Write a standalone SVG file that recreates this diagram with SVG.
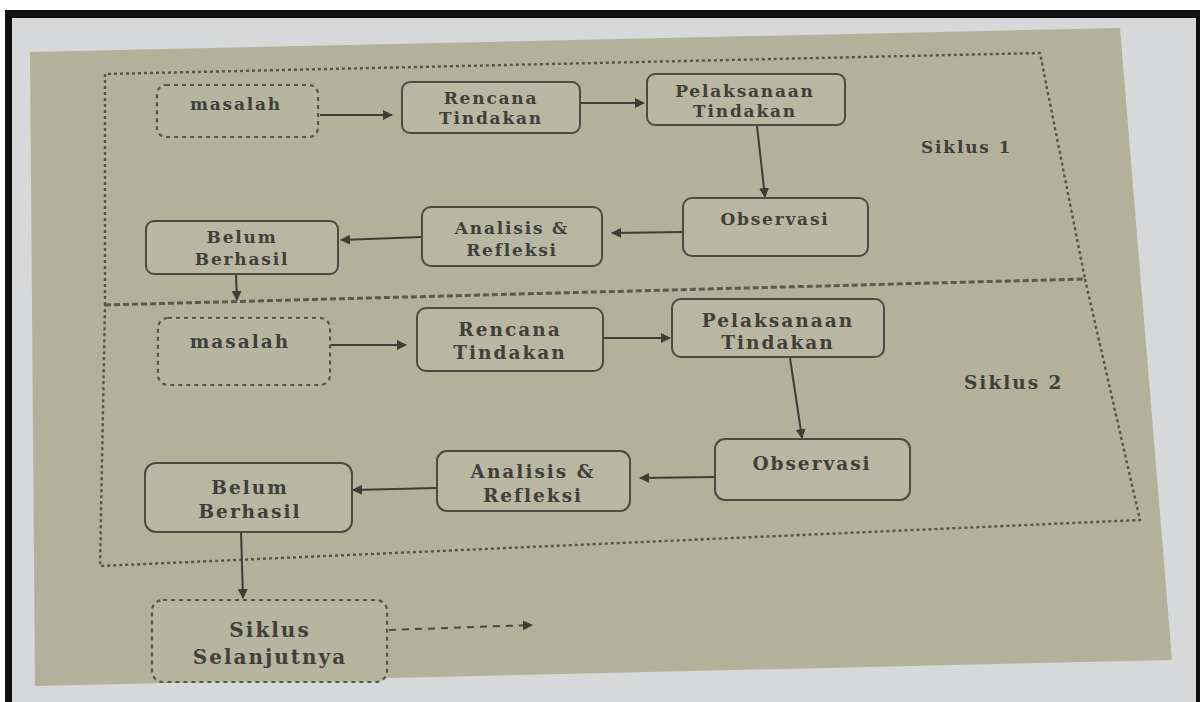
<svg xmlns="http://www.w3.org/2000/svg" width="1203" height="702" viewBox="0 0 1203 702">
<defs>
<style>
.node{fill:#b8b7a1;stroke:#4b4b40;stroke-width:2}
.dnode{fill:#b6b5a0;stroke:#55554a;stroke-width:2.2;stroke-dasharray:4 4}
.t{font-family:"DejaVu Serif","Liberation Serif",serif;font-weight:bold;fill:#40403a;text-anchor:middle}
.s1{font-size:17px;letter-spacing:1.8px}
.s2{font-size:18.5px;letter-spacing:2px}
.s3{font-size:20px;letter-spacing:2px}
.lbl{font-family:"DejaVu Serif","Liberation Serif",serif;font-weight:bold;fill:#40403a}
.edge{stroke:#3e3e35;stroke-width:2;fill:none;marker-end:url(#ah)}
.dedge{stroke:#4a4a40;stroke-width:2;fill:none;stroke-dasharray:7 6;marker-end:url(#ah)}
.cyc{fill:none;stroke:#55554a;stroke-width:2.4;stroke-dasharray:3 3}
.sep{fill:none;stroke:#5a5a4e;stroke-width:3;stroke-dasharray:6 3}
</style>
<marker id="ah" viewBox="0 0 10 10" refX="9" refY="5" markerWidth="5" markerHeight="5" orient="auto">
<path d="M0,0 L10,5 L0,10 z" fill="#3e3e35"/>
</marker>
</defs>
<rect x="0" y="0" width="1203" height="702" fill="#ffffff"/>
<rect x="5" y="10" width="1195" height="692" fill="#111111"/>
<rect x="12" y="18" width="1184" height="684" fill="#d6d8da"/>
<polygon points="30,52 1120,28 1172,660 35,686" fill="#b2b19a"/>

<g id="cycles">
<polyline class="cyc" points="105,305 105,74 1040,53 1085,279"/>
<polyline class="cyc" points="1085,279 1140,520 100,566 105,305"/>
<line class="sep" x1="105" y1="305" x2="1085" y2="279"/>
</g>
<text class="lbl s1" x="921" y="153">Siklus 1</text>
<text class="lbl s2" x="964" y="389">Siklus 2</text>

<g id="connectors">
<line class="edge" x1="320" y1="115" x2="392" y2="115"/>
<line class="edge" x1="581" y1="103" x2="644" y2="103"/>
<line class="edge" x1="757" y1="126" x2="765" y2="197"/>
<line class="edge" x1="683" y1="232" x2="612" y2="233"/>
<line class="edge" x1="422" y1="237" x2="341" y2="240"/>
<line class="edge" x1="236" y1="275" x2="237" y2="300"/>
<line class="edge" x1="331" y1="345" x2="406" y2="345"/>
<line class="edge" x1="604" y1="338" x2="670" y2="338"/>
<line class="edge" x1="790" y1="358" x2="802" y2="438"/>
<line class="edge" x1="715" y1="477" x2="640" y2="478"/>
<line class="edge" x1="437" y1="488" x2="353" y2="490"/>
<line class="edge" x1="241" y1="532" x2="243" y2="598"/>
<line class="dedge" x1="389" y1="630" x2="532" y2="625"/>
</g>

<g id="masalah1"><rect class="dnode" x="157" y="85" width="161" height="52" rx="9"/><text class="t s1" x="236" y="110">masalah</text></g>
<g id="rencana1"><rect class="node" x="402" y="82" width="178" height="51" rx="8"/><text class="t s1" x="491" y="104">Rencana</text><text class="t s1" x="491" y="124">Tindakan</text></g>
<g id="pelaksanaan1"><rect class="node" x="647" y="74" width="198" height="51" rx="8"/><text class="t s1" x="745" y="97">Pelaksanaan</text><text class="t s1" x="745" y="117">Tindakan</text></g>
<g id="observasi1"><rect class="node" x="683" y="198" width="185" height="58" rx="9"/><text class="t s1" x="775" y="225">Observasi</text></g>
<g id="analisis1"><rect class="node" x="422" y="207" width="180" height="59" rx="9"/><text class="t s1" x="512" y="234">Analisis &amp;</text><text class="t s1" x="512" y="256">Refleksi</text></g>
<g id="belum1"><rect class="node" x="146" y="221" width="192" height="53" rx="8"/><text class="t s1" x="242" y="243">Belum</text><text class="t s1" x="242" y="265">Berhasil</text></g>

<g id="masalah2"><rect class="dnode" x="158" y="318" width="172" height="67" rx="10"/><text class="t s2" x="240" y="348">masalah</text></g>
<g id="rencana2"><rect class="node" x="417" y="308" width="186" height="63" rx="9"/><text class="t s2" x="510" y="336">Rencana</text><text class="t s2" x="510" y="359">Tindakan</text></g>
<g id="pelaksanaan2"><rect class="node" x="672" y="299" width="212" height="58" rx="9"/><text class="t s2" x="778" y="327">Pelaksanaan</text><text class="t s2" x="778" y="349">Tindakan</text></g>
<g id="observasi2"><rect class="node" x="715" y="439" width="195" height="61" rx="10"/><text class="t s2" x="812" y="470">Observasi</text></g>
<g id="analisis2"><rect class="node" x="437" y="451" width="193" height="60" rx="10"/><text class="t s2" x="533" y="478">Analisis &amp;</text><text class="t s2" x="533" y="502">Refleksi</text></g>
<g id="belum2"><rect class="node" x="145" y="463" width="207" height="69" rx="11"/><text class="t s2" x="250" y="494">Belum</text><text class="t s2" x="250" y="518">Berhasil</text></g>

<g id="selanjutnya"><rect class="dnode" x="152" y="600" width="235" height="82" rx="11"/><text class="t s3" x="270" y="637">Siklus</text><text class="t s3" x="270" y="664">Selanjutnya</text></g>
</svg>
